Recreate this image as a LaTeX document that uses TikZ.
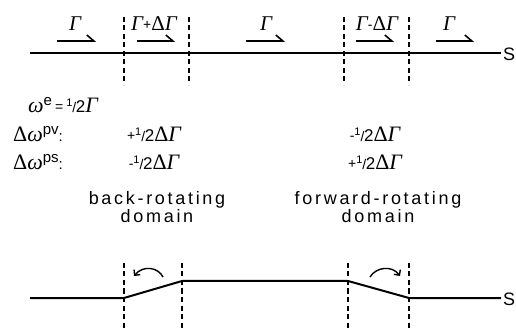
\documentclass[tikz,border=0pt]{standalone}
\usepackage{fontspec}
\setmainfont[LetterSpace=15]{Liberation Sans}
\newfontfamily\plainsans{Liberation Sans}
\newfontfamily\serif{Liberation Serif}
\usetikzlibrary{arrows.meta}
\newcommand\Gm{{\serif\itshape Γ}}
\newcommand\Dm{{\serif Δ}}
\newcommand\Om{{\serif\itshape ω}}
\newcommand\halfm{{\plainsans\raisebox{.55ex}{\fontsize{11}{11}\selectfont 1}{\fontsize{14}{14}\selectfont /}\kern-.02em{\fontsize{17}{17}\selectfont 2}}}
\newcommand\supm[1]{\raisebox{.65ex}{\plainsans\fontsize{15}{15}\selectfont #1}}
\newcommand\sgn[1]{\raisebox{.15ex}{\plainsans\fontsize{14}{14}\selectfont #1}}
\begin{document}
\begin{tikzpicture}[x=1pt,y=-1pt,
  baseline line/.style={line width=2.2pt},
  divider/.style={line width=1.1pt, dash pattern=on 5pt off 3.5pt},
  flowarrow/.style={line width=1.6pt, -{Straight Barb[left,length=7pt,width=12pt]}},
  turnarrow/.style={line width=1.4pt, -{Straight Barb[length=4pt,width=8pt]}},
  lab/.style={inner sep=0pt, font=\fontsize{22}{22}\selectfont},
  toplab/.style={inner sep=0pt, font=\fontsize{21}{21}\selectfont},
  txt/.style={inner sep=0pt, font=\fontsize{18}{18}\selectfont},
]
\useasboundingbox (0,0) rectangle (516,328);
% ---- top line
\coordinate (tl) at (30,53);
\coordinate (tr) at (501,53);
\draw[baseline line] (tl) -- (tr);
\node[txt, anchor=west] (S1) at (503,54) {\plainsans S};
% top dividers
\foreach \n/\x in {a/124,b/189,c/344,d/409}{
  \coordinate (td\n t) at (\x,17);
  \coordinate (td\n b) at (\x,85);
  \draw[divider] (td\n t) -- (td\n b);
}
% top flow arrows
\foreach \n/\a/\b in {1/57/96,2/137/175,3/246/285,4/356/394,5/436/474}{
  \coordinate (fa\n) at (\a,41);
  \coordinate (fb\n) at (\b,41);
  \draw[flowarrow] (fa\n) -- (fb\n);
}
\node[toplab, anchor=base] (g1) at (75,31) {\Gm};
\node[toplab, anchor=base] (g2) at (154,31) {\Gm\sgn{+}\Dm\Gm};
\node[toplab, anchor=base] (g3) at (266,31) {\Gm};
\node[toplab, anchor=base] (g4) at (377,31) {\Gm\sgn{-}\Dm\Gm};
\node[toplab, anchor=base] (g5) at (449,31) {\Gm};
% ---- text block
\node[lab, anchor=base west] (we) at (28,113) {\Om\supm{e}\kern3pt\sgn{=}\kern3pt\halfm\Gm};
\node[lab, anchor=base west] (pv) at (13,142) {\Dm\Om\supm{pv}{\plainsans\fontsize{15}{15}\selectfont :}};
\node[lab, anchor=base west] (ps) at (13,170) {\Dm\Om\supm{ps}{\plainsans\fontsize{15}{15}\selectfont :}};
\node[lab, anchor=base] (pvl) at (154,142) {\sgn{+}\halfm\Dm\Gm};
\node[lab, anchor=base] (psl) at (154,170) {\sgn{-}\halfm\Dm\Gm};
\node[lab, anchor=base] (pvr) at (375,142) {\sgn{-}\halfm\Dm\Gm};
\node[lab, anchor=base] (psr) at (375,170) {\sgn{+}\halfm\Dm\Gm};
\node[txt, anchor=base] (br) at (157,205) {back-rotating};
\node[txt, anchor=base] (bd) at (157,223) {domain};
\node[txt, anchor=base] (fr) at (378,205) {forward-rotating};
\node[txt, anchor=base] (fd) at (378,223) {domain};
% ---- bottom profile
\coordinate (b0) at (30,298);
\coordinate (b1) at (124,298);
\coordinate (b2) at (182,281);
\coordinate (b3) at (348,281);
\coordinate (b4) at (409,298);
\coordinate (b5) at (501,298);
\draw[line width=2pt, line join=round] (b0) -- (b1) -- (b2) -- (b3) -- (b4) -- (b5);
\node[txt, anchor=west] (S2) at (503,299) {\plainsans S};
\foreach \n/\x in {a/124,b/182,c/348,d/409}{
  \coordinate (bd\n t) at (\x,263);
  \coordinate (bd\n b) at (\x,330);
  \draw[divider] (bd\n t) -- (bd\n b);
}
% rotation arrows
\coordinate (ra1) at (163,277);
\coordinate (rb1) at (134,276);
\draw[turnarrow] (ra1) .. controls (158,267) and (143,265) .. (rb1);
\coordinate (ra2) at (370,277);
\coordinate (rb2) at (400,276);
\draw[turnarrow] (ra2) .. controls (376,267) and (392,265) .. (rb2);
\end{tikzpicture}
\end{document}
